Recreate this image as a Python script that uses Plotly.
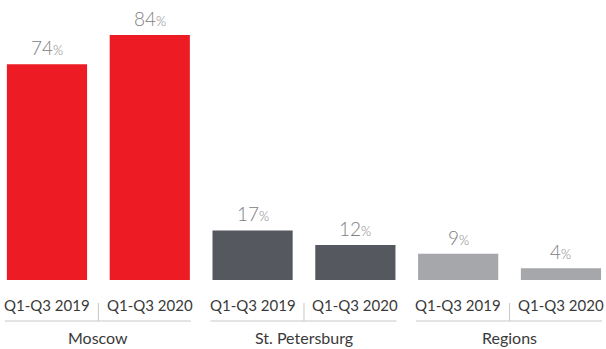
import plotly.graph_objects as go

regions = ["Moscow", "St. Petersburg", "Regions"]
periods = ["Q1-Q3 2019", "Q1-Q3 2020"]
shares = {
    "Moscow": [74, 84],
    "St. Petersburg": [17, 12],
    "Regions": [9, 4],
}
region_colors = {
    "Moscow": "#ED1C24",
    "St. Petersburg": "#55585F",
    "Regions": "#A5A7AA",
}

FONT = "Lato"
LABEL_GREY = "#808080"
AXIS_TEXT = "#3A3A3A"
RULE = "#C8C8C8"

xs, ys, cols = [], [], []
pos = 0
for r in regions:
    for v in shares[r]:
        xs.append(pos)
        ys.append(v)
        cols.append(region_colors[r])
        pos += 1

fig = go.Figure(
    go.Bar(
        x=xs,
        y=ys,
        width=0.78,
        marker=dict(color=cols, line=dict(width=0)),
        hoverinfo="skip",
    )
)

annotations = []
shapes = []

# value labels above bars
for x, v in zip(xs, ys):
    annotations.append(dict(
        x=x, y=v, xref="x", yref="y",
        text=f"{v}<span style='font-size:13px'>%</span>",
        showarrow=False, yanchor="bottom", yshift=3,
        font=dict(family=FONT, size=19, color=LABEL_GREY, weight=300),
    ))

# period labels, group rules and region names under the axis
for gi, r in enumerate(regions):
    x0 = 2 * gi
    x1 = 2 * gi + 1
    for k, p in enumerate(periods):
        annotations.append(dict(
            x=x0 + k, y=0, xref="x", yref="y",
            text=p, showarrow=False, yanchor="middle", yshift=-25,
            font=dict(family=FONT, size=15, color=AXIS_TEXT),
        ))
    annotations.append(dict(
        x=(x0 + x1) / 2, y=0, xref="x", yref="y",
        text=r, showarrow=False, yanchor="middle", yshift=-57,
        font=dict(family=FONT, size=16, color=AXIS_TEXT),
    ))
    shapes.append(dict(
        type="line", xref="x", yref="paper",
        x0=x0 - 0.41, x1=x1 + 0.40, y0=-41 / 280, y1=-41 / 280,
        line=dict(color=RULE, width=1),
    ))
    shapes.append(dict(
        type="line", xref="x", yref="paper",
        x0=(x0 + x1) / 2, x1=(x0 + x1) / 2, y0=-23 / 280, y1=-41 / 280,
        line=dict(color=RULE, width=1),
    ))

fig.update_layout(
    width=606, height=349,
    margin=dict(l=0, r=0, t=0, b=69),
    paper_bgcolor="white", plot_bgcolor="white",
    showlegend=False,
    xaxis=dict(range=[-0.457, 5.438], visible=False, fixedrange=True),
    yaxis=dict(range=[0, 96], visible=False, fixedrange=True),
    annotations=annotations,
    shapes=shapes,
)

fig.write_html("out.html")
